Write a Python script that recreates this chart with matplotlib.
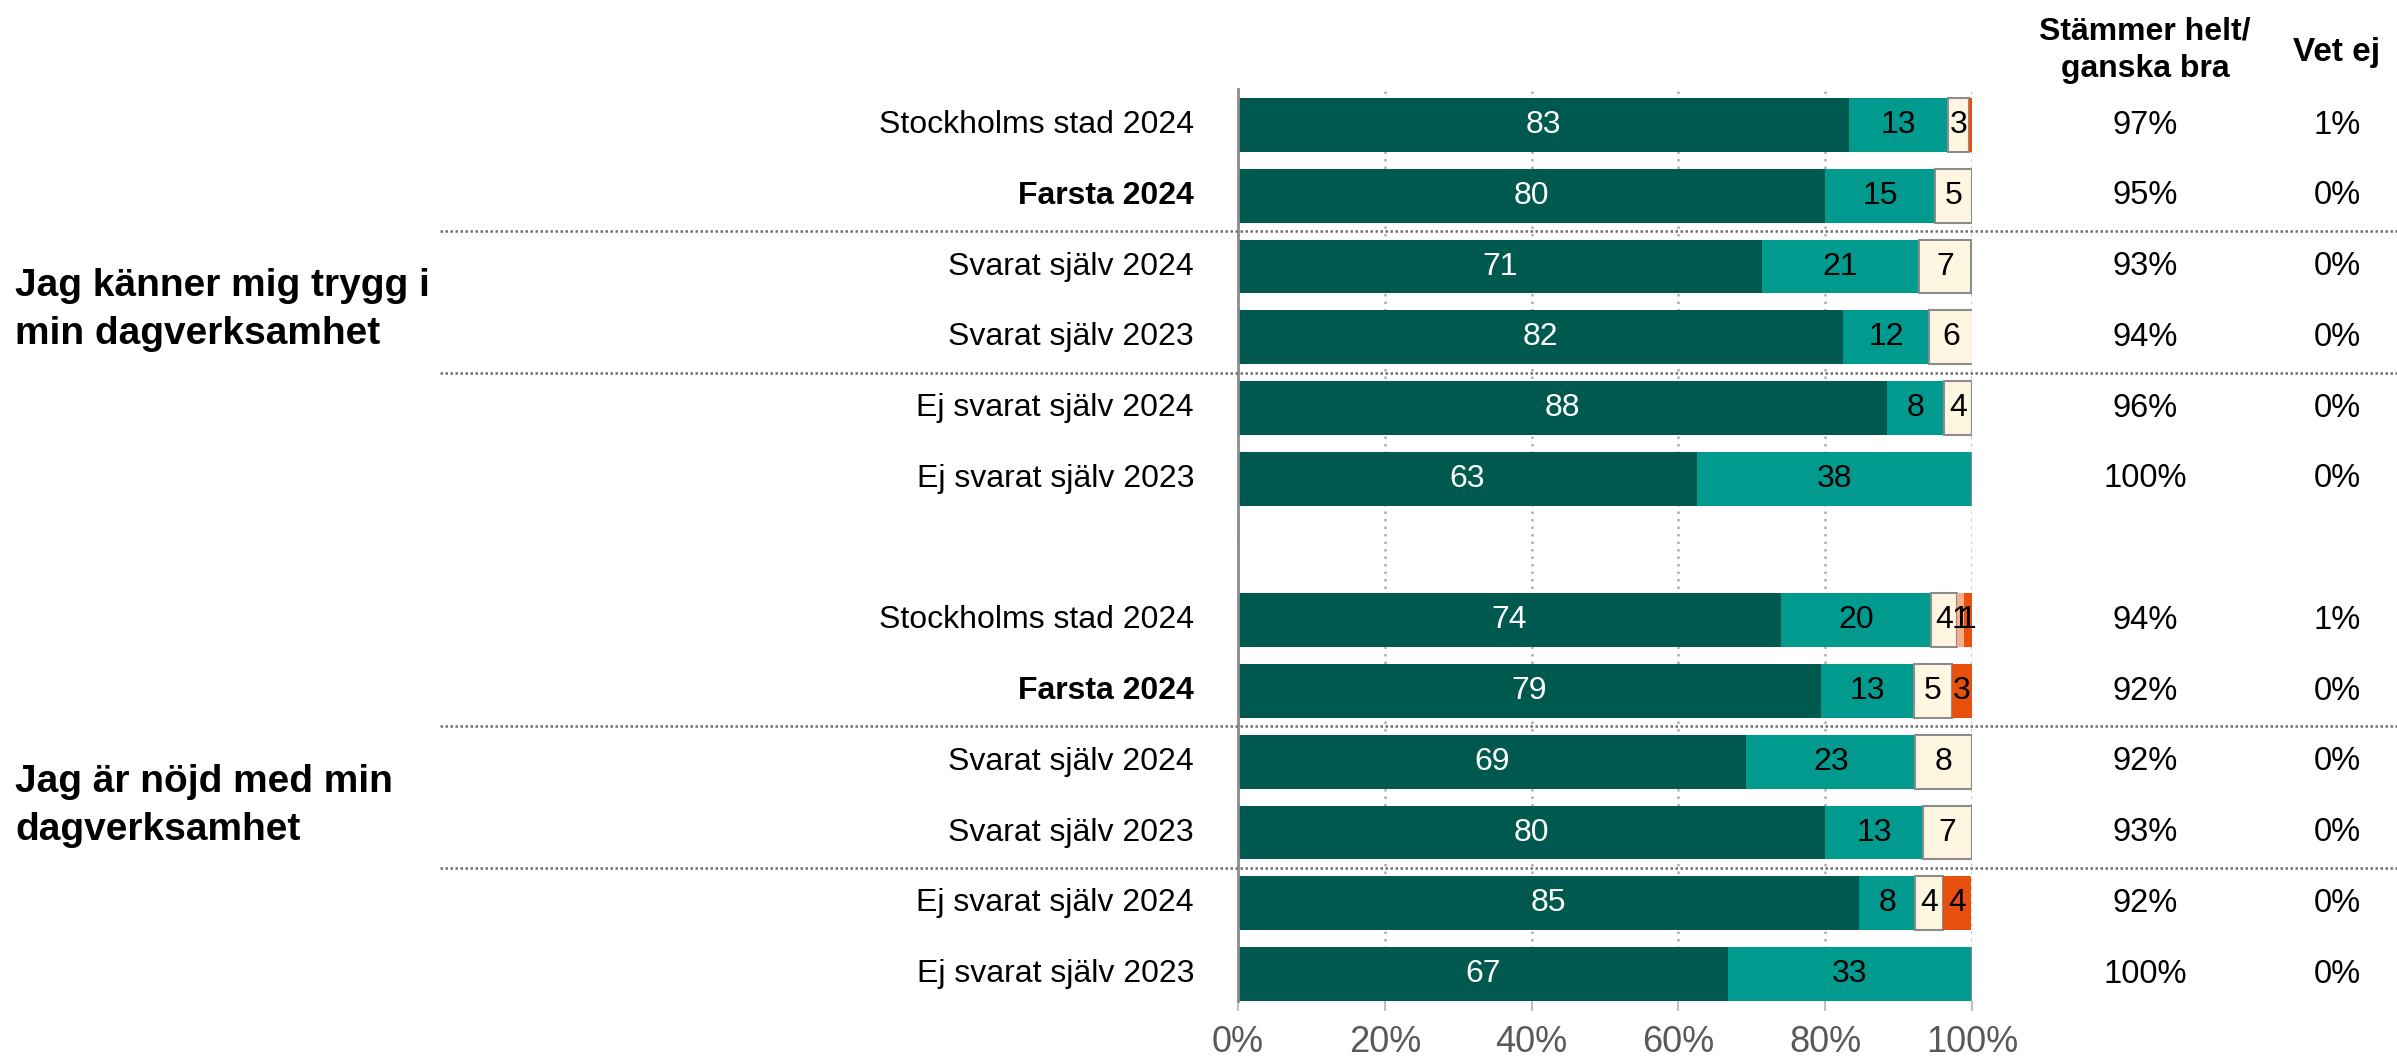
import matplotlib.pyplot as plt
from matplotlib.lines import Line2D
from matplotlib.transforms import blended_transform_factory

plt.rcParams['font.family'] = ['Liberation Sans', 'DejaVu Sans']

categories = ["Stockholms stad 2024", "Farsta 2024", "Svarat själv 2024",
              "Svarat själv 2023", "Ej svarat själv 2024", "Ej svarat själv 2023"]
questions = ["Jag känner mig trygg i\nmin dagverksamhet",
             "Jag är nöjd med min\ndagverksamhet"]

# Fråga 1
q1_helt = [83.3, 80.0, 71.4, 82.4, 88.46, 62.5]
q1_ganska = [13.4, 15.0, 21.4, 11.8, 7.69, 37.5]
q1_varken = [2.9, 5.0, 7.1, 5.9, 3.85, 0]
q1_ganska_daligt = [0, 0, 0, 0, 0, 0]
q1_helt_daligt = [0.4, 0, 0, 0, 0, 0]
q1_bra = ["97%", "95%", "93%", "94%", "96%", "100%"]
q1_vet_ej = ["1%", "0%", "0%", "0%", "0%", "0%"]

# Fråga 2
q2_helt = [74.0, 79.4, 69.2, 80.0, 84.6, 66.7]
q2_ganska = [20.4, 12.7, 23.1, 13.3, 7.7, 33.3]
q2_varken = [3.6, 5.2, 7.7, 6.7, 3.8, 0]
q2_ganska_daligt = [0.9, 0, 0, 0, 0, 0]
q2_helt_daligt = [1.1, 2.7, 0, 0, 3.8, 0]
q2_bra = ["94%", "92%", "92%", "93%", "92%", "100%"]
q2_vet_ej = ["1%", "0%", "0%", "0%", "0%", "0%"]

tick_labels = ["0%", "20%", "40%", "60%", "80%", "100%"]

colors = ["#00594e", "#009a8e", "#fff6e2", "#f6ad8a", "#e8500e"]
edges = [None, None, "#8c8c8c", None, None]
text_colors = ["white", "black", "black", "black", "black"]

fig = plt.figure(figsize=(23.97, 10.61), dpi=100)
ax = fig.add_axes([0.5165, 0.0566, 0.3062, 0.8595])

groups = [
    (questions[0], [q1_helt, q1_ganska, q1_varken, q1_ganska_daligt, q1_helt_daligt], q1_bra, q1_vet_ej, 0),
    (questions[1], [q2_helt, q2_ganska, q2_varken, q2_ganska_daligt, q2_helt_daligt], q2_bra, q2_vet_ej, 7),
]

fs = 23
tr_fig_data = blended_transform_factory(fig.transFigure, ax.transData)

for title, series, bra, vet, start in groups:
    ypos = [start + i for i in range(len(categories))]
    left = [0.0] * len(categories)
    for k, vals in enumerate(series):
        ax.barh(ypos, vals, left=left, height=0.76, color=colors[k],
                edgecolor=edges[k] if edges[k] else colors[k],
                linewidth=1.5 if edges[k] else 0, zorder=3)
        for i, v in enumerate(vals):
            lab = int(v + 0.5)
            if lab >= 1:
                ax.text(left[i] + v / 2, ypos[i], str(lab), ha='center', va='center',
                        fontsize=fs, color=text_colors[k], zorder=4)
        left = [a + b for a, b in zip(left, vals)]
    for i, cat in enumerate(categories):
        ax.text(-6.0, ypos[i], cat, ha='right', va='center', fontsize=fs,
                fontweight='bold' if cat.startswith("Farsta") else 'normal')
        t1 = fig.text(2145 / 2397, 0, bra[i], ha='center', va='center', fontsize=23.5,
                      transform=tr_fig_data)
        t1.set_y(ypos[i])
        t2 = fig.text(2337 / 2397, 0, vet[i], ha='center', va='center', fontsize=23.5,
                      transform=tr_fig_data)
        t2.set_y(ypos[i])
    t = fig.text(15 / 2397, 0, title, ha='left', va='center', fontsize=28,
                 fontweight='bold', linespacing=1.43, transform=tr_fig_data)
    t.set_y(start + 2.62)
    for ysep in (start + 1.5, start + 3.5):
        fig.add_artist(Line2D([440 / 2397, 1.0], [ysep, ysep], transform=tr_fig_data,
                              color="#6f6f6f", lw=1.8, linestyle=(0, (1, 1))))

fig.text(2145 / 2397, 1 - 31 / 1061, "Stämmer helt/", ha='center', va='center',
         fontsize=fs, fontweight='bold')
fig.text(2145 / 2397, 1 - 69 / 1061, "ganska bra", ha='center', va='center',
         fontsize=fs, fontweight='bold')
fig.text(2337 / 2397, 1 - 52 / 1061, "Vet ej", ha='center', va='center',
         fontsize=24, fontweight='bold')

ax.set_xlim(0, 100)
ax.set_ylim(12.38, -0.51)
ax.set_xticks([0, 20, 40, 60, 80, 100])
ax.set_xticklabels(tick_labels, fontsize=26, color="#595959")
ax.set_yticks([])
ax.grid(axis='x', color="#b0b0b0", linestyle=(0, (1, 2)), lw=1.8, zorder=0)
for s in ("top", "right", "bottom"):
    ax.spines[s].set_visible(False)
ax.spines["left"].set_color("#8c8c8c")
ax.spines["left"].set_linewidth(2)
ax.spines["left"].set_zorder(5)
ax.tick_params(axis='x', length=7, width=1.5, color="#bfbfbf", pad=10)

fig.savefig("out.png", dpi=100)
